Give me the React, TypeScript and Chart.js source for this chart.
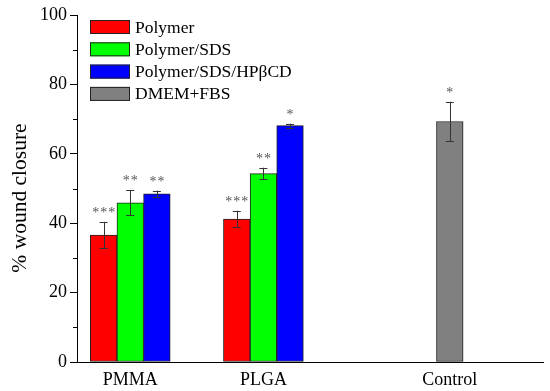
import React, { useEffect, useRef } from "react";
import { Chart, registerables } from "chart.js";

Chart.register(...registerables);

const categories = ["PMMA", "PLGA", "Control"];
const seriesNames = ["Polymer", "Polymer/SDS", "Polymer/SDS/HPβCD", "DMEM+FBS"];
const polymerValues = [36.6, 41.2, null];
const polymerErrors = [3.8, 2.4, null];
const polymerSig = ["***", "***", null];
const sdsValues = [45.9, 54.3, null];
const sdsErrors = [3.6, 1.7, null];
const sdsSig = ["**", "**", null];
const hpValues = [48.5, 68.1, null];
const hpErrors = [0.9, 0.6, null];
const hpSig = ["**", "*", null];
const dmemValues = [null, null, 69.3];
const dmemErrors = [null, null, 5.7];
const dmemSig = [null, null, "*"];
const yTicks = [0, 20, 40, 60, 80, 100];

// layout (positions of groups on the linear x axis, in bar-width units)
const groupCenters = [2, 7, 14];
const seriesOffsets = [-1, 0, 1, 0];
const colors = ["#ff0000", "#00ff00", "#0000ff", "#808080"];

const FONT = "'Liberation Serif', 'Times New Roman', serif";
Chart.defaults.font.family = FONT;

export default function App() {
  const ref = useRef<HTMLCanvasElement | null>(null);

  useEffect(() => {
    const values = [polymerValues, sdsValues, hpValues, dmemValues];
    const errors = [polymerErrors, sdsErrors, hpErrors, dmemErrors];
    const sigs = [polymerSig, sdsSig, hpSig, dmemSig];

    const datasets = values.map((vals, si) => ({
      label: seriesNames[si],
      data: vals
        .map((v, ci) => (v == null ? null : { x: groupCenters[ci] + seriesOffsets[si], y: v }))
        .filter((p) => p !== null),
      backgroundColor: colors[si],
      borderColor: "#222",
      borderWidth: 1,
      borderSkipped: false as any,
      grouped: false,
      barPercentage: 1,
      categoryPercentage: 1,
    }));

    const overlay = {
      id: "overlay",
      afterDatasetsDraw(chart: any) {
        const ctx = chart.ctx;
        const xs = chart.scales.x;
        const ys = chart.scales.y;
        ctx.save();
        values.forEach((vals, si) => {
          vals.forEach((v, ci) => {
            if (v == null) return;
            const e = errors[si][ci] || 0;
            const x = xs.getPixelForValue(groupCenters[ci] + seriesOffsets[si]);
            const yt = ys.getPixelForValue(v + e);
            const yb = ys.getPixelForValue(v - e);
            ctx.strokeStyle = "#333";
            ctx.lineWidth = 1;
            ctx.beginPath();
            ctx.moveTo(Math.round(x) + 0.5, yt);
            ctx.lineTo(Math.round(x) + 0.5, yb);
            ctx.moveTo(x - 4, Math.round(yt) + 0.5);
            ctx.lineTo(x + 4, Math.round(yt) + 0.5);
            ctx.moveTo(x - 4, Math.round(yb) + 0.5);
            ctx.lineTo(x + 4, Math.round(yb) + 0.5);
            ctx.stroke();
            const s = sigs[si][ci];
            if (s) {
              ctx.fillStyle = "#555";
              ctx.font = `14px ${FONT}`;
              try { (ctx as any).letterSpacing = "1px"; } catch (_) {}
              ctx.textAlign = "center";
              ctx.textBaseline = "alphabetic";
              ctx.fillText(s, x + 0.5, yt - 5);
              try { (ctx as any).letterSpacing = "0px"; } catch (_) {}
            }
          });
        });
        // minor ticks on y axis
        ctx.strokeStyle = "#000";
        ctx.lineWidth = 1;
        ctx.beginPath();
        for (let v = 10; v < 100; v += 20) {
          const y = Math.round(ys.getPixelForValue(v)) + 0.5;
          ctx.moveTo(chart.chartArea.left - 4, y);
          ctx.lineTo(chart.chartArea.left, y);
        }
        ctx.stroke();
        // legend
        const lx = 90;
        let ly = 20;
        seriesNames.forEach((name, i) => {
          ctx.fillStyle = colors[i];
          ctx.fillRect(lx, ly, 40, 14);
          ctx.strokeStyle = "#222";
          ctx.strokeRect(lx + 0.5, ly + 0.5, 39, 13);
          ctx.fillStyle = "#000";
          ctx.font = `17.5px ${FONT}`;
          ctx.textAlign = "left";
          ctx.textBaseline = "middle";
          ctx.fillText(name, lx + 45, ly + 8);
          ly += 22.3;
        });
        // y title
        ctx.save();
        ctx.translate(20, 198);
        ctx.rotate(-Math.PI / 2);
        ctx.fillStyle = "#000";
        ctx.font = `21.5px ${FONT}`;
        ctx.textAlign = "center";
        ctx.textBaseline = "middle";
        ctx.fillText("% wound closure", 0, 0);
        ctx.restore();
        ctx.restore();
      },
    };

    const chart = new Chart(ref.current as HTMLCanvasElement, {
      type: "bar",
      data: { datasets: datasets as any },
      options: {
        animation: false,
        responsive: true,
        maintainAspectRatio: false,
        layout: { padding: { left: 0, top: 15, right: 7, bottom: 0 } },
        plugins: { legend: { display: false }, tooltip: { enabled: false } },
        scales: {
          x: {
            type: "linear",
            min: 0,
            max: 17.5,
            offset: false,
            grid: { display: true, drawOnChartArea: false, drawTicks: false },
            border: { display: true, color: "#000", width: 1 },
            afterBuildTicks: (scale: any) => {
              scale.ticks = groupCenters.map((v) => ({ value: v }));
            },
            afterFit: (scale: any) => {
              scale.height = 29;
            },
            ticks: {
              autoSkip: false,
              maxRotation: 0,
              padding: 7,
              color: "#000",
              font: { family: FONT, size: 18 },
              callback: (_v: any, i: number) => categories[i],
            },
          },
          y: {
            min: 0,
            max: 100,
            afterBuildTicks: (scale: any) => {
              scale.ticks = yTicks.map((v) => ({ value: v }));
            },
            afterFit: (scale: any) => {
              scale.width = 77;
            },
            grid: { display: true, drawOnChartArea: false, drawTicks: true, tickLength: 7, color: "#000" },
            border: { display: true, color: "#000", width: 1 },
            ticks: {
              padding: 3,
              color: "#000",
              font: { family: FONT, size: 18 },
            },
          },
        },
      },
      plugins: [overlay],
    });
    return () => chart.destroy();
  }, []);

  return (
    <div style={{ position: "fixed", left: 0, top: 0, width: 550, height: 391, background: "#fff" }}>
      <canvas ref={ref} />
    </div>
  );
}
